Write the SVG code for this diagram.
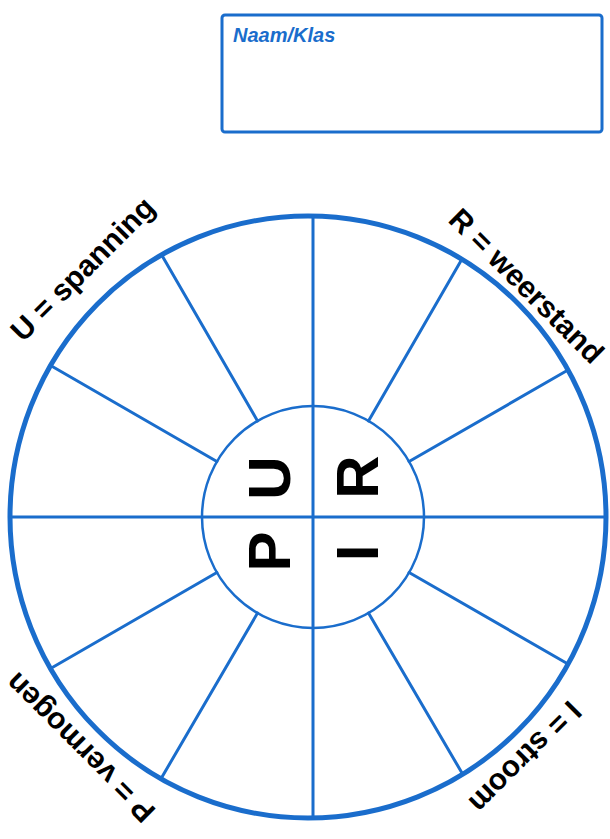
<svg xmlns="http://www.w3.org/2000/svg" width="610" height="839" viewBox="0 0 610 839">
<style>
.blue{fill:none;stroke:#1a6dcc;stroke-linecap:round}
.lbl{font-family:"Liberation Sans",Arial,Helvetica,sans-serif;font-weight:bold;font-size:30px;fill:#000}
.big{font-family:"Liberation Sans",Arial,Helvetica,sans-serif;font-weight:bold;font-size:60px;fill:#000;text-anchor:middle}
</style>
<rect width="610" height="839" fill="#fff"/>
<g id="namebox">
<rect class="blue" x="222" y="15" width="380" height="117" rx="3" stroke-width="3"/>
<text x="233" y="42" font-family="'Liberation Sans',Arial,sans-serif" font-weight="bold" font-style="italic" font-size="20" fill="#1a6dcc">Naam/Klas</text>
</g>
<g id="wheel">
<ellipse class="blue" cx="308" cy="517" rx="298" ry="301" stroke-width="5"/>
<circle class="blue" cx="313" cy="517" r="111" stroke-width="2.5"/>
</g>
<g id="connectors" class="blue" stroke-width="3">
<line x1="10" y1="517" x2="606" y2="517"/>
<line x1="313" y1="216" x2="313" y2="818"/>
<line x1="368.5" y1="420.9" x2="462" y2="259"/>
<line x1="409.1" y1="461.5" x2="568" y2="370"/>
<line x1="409.1" y1="572.5" x2="568" y2="664"/>
<line x1="368.5" y1="613.1" x2="462" y2="773"/>
<line x1="257.5" y1="613.1" x2="162" y2="777"/>
<line x1="216.9" y1="572.5" x2="50.6" y2="668.5"/>
<line x1="216.9" y1="461.5" x2="50.6" y2="365.5"/>
<line x1="257.5" y1="420.9" x2="161.7" y2="255"/>
</g>
<g id="label-U">
<text class="lbl" transform="translate(23,343) rotate(-45)">U = spanning</text>
</g>
<g id="label-R">
<text class="lbl" transform="translate(447,221) rotate(45)">R = weerstand</text>
</g>
<g id="label-P">
<text class="lbl" transform="translate(157,810) rotate(225)">P = vermogen</text>
</g>
<g id="label-I">
<text class="lbl" transform="translate(569,699) rotate(135)">I = stroom</text>
</g>
<g id="center-letters">
<text class="big" transform="translate(290,551.5) rotate(-90)">P</text>
<text class="big" transform="translate(290,478) rotate(-90)">U</text>
<text class="big" transform="translate(378,477) rotate(-90)">R</text>
<text class="big" transform="translate(378,553) rotate(-90)">I</text>
</g>
</svg>
